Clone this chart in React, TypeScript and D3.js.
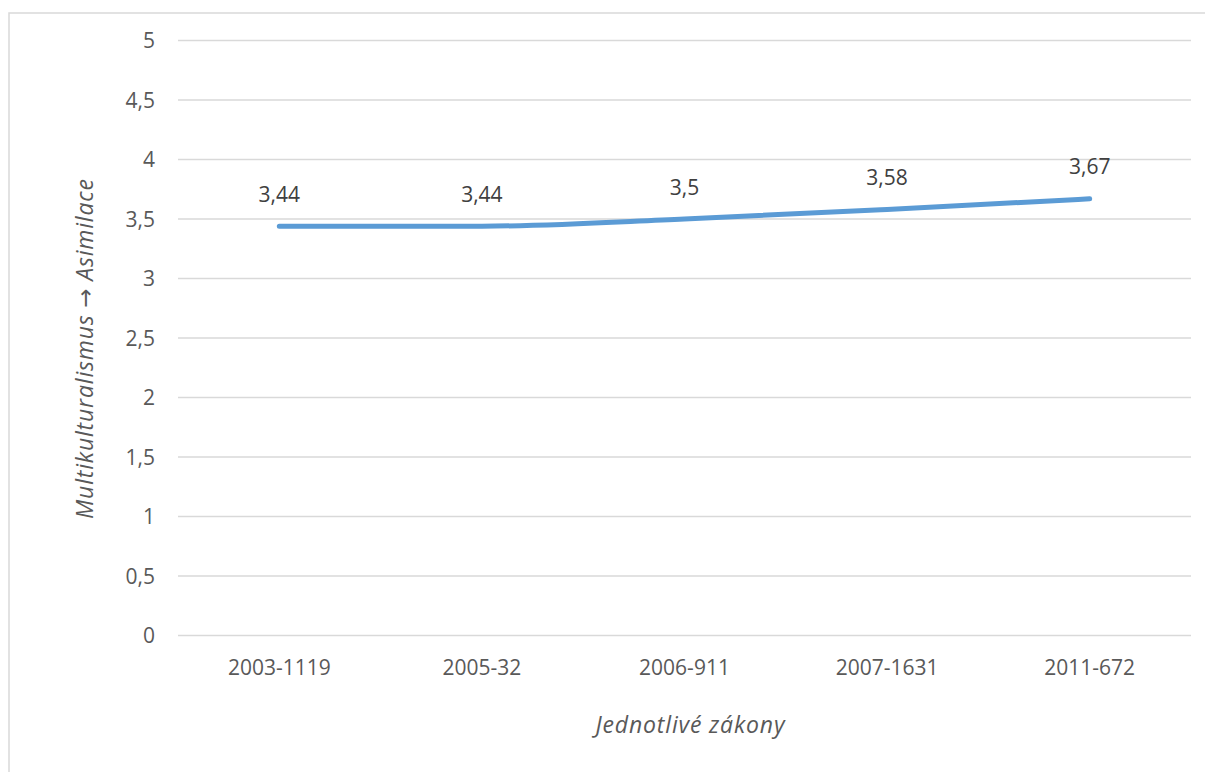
import React from "react";
import * as d3 from "d3";

const categories = ["2003-1119", "2005-32", "2006-911", "2007-1631", "2011-672"];
const values = [3.44, 3.44, 3.5, 3.58, 3.67];
const yTicks = [0, 0.5, 1, 1.5, 2, 2.5, 3, 3.5, 4, 4.5, 5];
const yTitleA = "Multikulturalismus ";
const yTitleArrow = "→";
const yTitleB = " Asimilace";
const xTitle = "Jednotlivé zákony";

const W = 1205;
const H = 772;
const left = 178;
const right = 1191;
const top = 40.5;
const bottom = 635.5;
const FONT = "'Open Sans', sans-serif";
const TEXT = "#595959";

export default function App() {
  const x = d3.scaleBand<string>().domain(categories).range([left, right]).padding(0);
  const y = d3.scaleLinear().domain([0, 5]).range([bottom, top]);
  const cx = (c: string) => (x(c) as number) + x.bandwidth() / 2;
  const line = d3
    .line<number>()
    .x((_, i) => cx(categories[i]))
    .y((d) => y(d))
    .curve(d3.curveMonotoneX);
  const fmt = (v: number) => String(v).replace(".", ",");

  return (
    <svg
      width={W}
      height={H}
      style={{ position: "absolute", left: 0, top: 0, background: "#fff" }}
    >
      <rect x={9} y={13} width={W} height={H} fill="#fff" stroke="#d9d9d9" strokeWidth={1.5} />
      {yTicks.map((t) => (
        <g key={t}>
          <line x1={left} x2={right} y1={y(t)} y2={y(t)} stroke="#d9d9d9" strokeWidth={1.5} />
          <text
            x={155}
            y={y(t)}
            dy="0.36em"
            textAnchor="end"
            fontFamily={FONT}
            fontSize={21}
            fill={TEXT}
          >
            {fmt(t)}
          </text>
        </g>
      ))}
      {categories.map((c) => (
        <text
          key={c}
          x={cx(c)}
          y={667}
          dy="0.36em"
          textAnchor="middle"
          fontFamily={FONT}
          fontSize={21}
          fill={TEXT}
        >
          {c}
        </text>
      ))}
      <path
        d={line(values) || ""}
        fill="none"
        stroke="#5B9BD5"
        strokeWidth={5}
        strokeLinecap="round"
        strokeLinejoin="round"
      />
      {values.map((v, i) => (
        <text
          key={i}
          x={cx(categories[i])}
          y={y(v) - 32}
          dy="0.36em"
          textAnchor="middle"
          fontFamily={FONT}
          fontSize={21}
          fill="#404040"
        >
          {fmt(v)}
        </text>
      ))}
      <text
        x={690}
        y={725}
        dy="0.36em"
        textAnchor="middle"
        fontFamily={FONT}
        fontStyle="italic"
        fontSize={23}
        fill={TEXT}
        textLength={189}
        lengthAdjust="spacing"
      >
        {xTitle}
      </text>
      <text
        transform={`translate(85,349) rotate(-90)`}
        dy="0.36em"
        textAnchor="middle"
        fontFamily={FONT}
        fontStyle="italic"
        fontSize={23}
        fill={TEXT}
        textLength={340}
        lengthAdjust="spacing"
      >
        {yTitleA}
        <tspan fontFamily="'DejaVu Sans', sans-serif" fontStyle="normal" fontSize={23}>
          {yTitleArrow}
        </tspan>
        {yTitleB}
      </text>
    </svg>
  );
}
